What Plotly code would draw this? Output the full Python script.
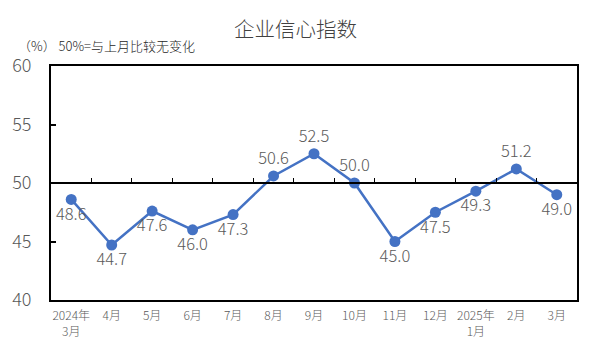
import plotly.graph_objects as go

categories = ["2024年<br>3月", "4月", "5月", "6月", "7月", "8月", "9月", "10月", "11月", "12月", "2025年<br>1月", "2月", "3月"]
values = [48.6, 44.7, 47.6, 46.0, 47.3, 50.6, 52.5, 50.0, 45.0, 47.5, 49.3, 51.2, 49.0]
label_pos = ["bottom center", "bottom center", "bottom center", "bottom center", "bottom center",
             "top center", "top center", "top center", "bottom center", "bottom center",
             "bottom center", "top center", "bottom center"]
y_ticks = [40, 45, 50, 55, 60]

xs = list(range(len(categories)))
font_fam = "Noto Sans CJK SC, Microsoft YaHei, sans-serif"

fig = go.Figure()
fig.add_trace(go.Scatter(
    x=xs, y=values, mode="lines+markers+text",
    text=[f"{v:.1f}" for v in values], textposition=label_pos,
    textfont=dict(size=16.5, color="#595959", family=font_fam, weight=300),
    line=dict(color="#4472C4", width=2.5),
    marker=dict(color="#4472C4", size=11),
    cliponaxis=False, showlegend=False,
))
# invisible trace to carry the 50-line axis
fig.add_trace(go.Scatter(x=[xs[0], xs[-1]], y=[50, 50], xaxis="x2", mode="lines",
                         line=dict(width=0), hoverinfo="skip", showlegend=False))

W, H = 591, 354
l, r, t, b = 47, 12, 66, 54
pw, ph = W - l - r, H - t - b

fig.update_layout(
    width=W, height=H,
    margin=dict(l=l, r=r, t=t, b=b),
    paper_bgcolor="white", plot_bgcolor="white",
    title=dict(text="企业信心指数", x=0.5, xanchor="center", y=0.915, yanchor="middle",
               font=dict(size=20.5, color="#404040", family=font_fam, weight=300)),
    xaxis=dict(range=[-0.5, len(categories) - 0.5], tickvals=xs, ticktext=categories,
               showgrid=False, zeroline=False, showline=True, linecolor="black", linewidth=2,
               mirror=True, ticks="", ticklabelstandoff=4,
               tickfont=dict(size=12, color="#595959", family=font_fam, weight=300)),
    xaxis2=dict(overlaying="x", matches="x", anchor="free", position=0.5, side="top",
                tickvals=[i + 0.5 for i in xs[:-1]], ticks="outside", ticklen=4, tickwidth=1,
                tickcolor="black", showticklabels=False, showline=True, linecolor="black",
                linewidth=2, showgrid=False, zeroline=False),
    yaxis=dict(range=[40, 60], tickvals=y_ticks, showgrid=False, zeroline=False,
               showline=True, linecolor="black", linewidth=2, mirror=True,
               ticks="inside", ticklen=5, tickwidth=1.5, tickcolor="black",
               ticklabelstandoff=14,
               tickfont=dict(size=18, color="#595959", family=font_fam, weight=300)),
    annotations=[dict(text="（%） 50%=与上月比较无变化",
                      x=(12 - l) / pw, y=(H - b - 45) / ph, xref="paper", yref="paper",
                      showarrow=False, xanchor="left", yanchor="middle",
                      font=dict(size=13, color="#262626", family=font_fam, weight=300))],
)
fig.write_html("out.html")
